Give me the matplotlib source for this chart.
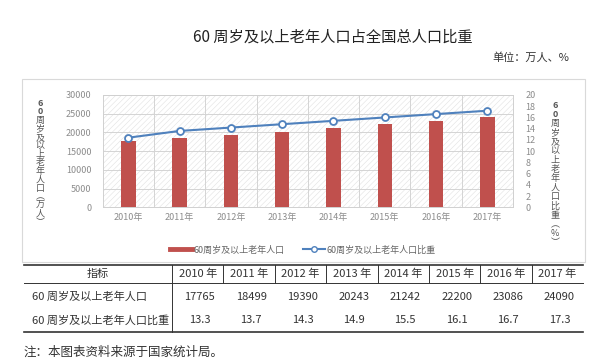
import matplotlib
matplotlib.use("Agg")
import matplotlib.pyplot as plt
from matplotlib.patches import Rectangle
from matplotlib.lines import Line2D

plt.rcParams['font.family'] = ['Noto Sans CJK SC', 'DejaVu Sans']
plt.rcParams['hatch.linewidth'] = 0.4

years = ['2010年', '2011年', '2012年', '2013年', '2014年', '2015年', '2016年', '2017年']
table_years = ['2010 年', '2011 年', '2012 年', '2013 年', '2014 年', '2015 年', '2016 年', '2017 年']
population = [17765, 18499, 19390, 20243, 21242, 22200, 23086, 24090]
share_plot = [12.4, 13.6, 14.2, 14.8, 15.4, 16.0, 16.6, 17.2]
share_table = ['13.3', '13.7', '14.3', '14.9', '15.5', '16.1', '16.7', '17.3']
series_names = ['60周岁及以上老年人口', '60周岁及以上老年人口比重']
row_labels = ['60 周岁及以上老年人口', '60 周岁及以上老年人口比重']
left_ticks = [0, 5000, 10000, 15000, 20000, 25000, 30000]
right_ticks = [0, 2, 4, 6, 8, 10, 12, 14, 16, 18, 20]

W, H = 600, 362
fig = plt.figure(figsize=(W / 100, H / 100), dpi=100)

def X(px):
    return px / W

def Y(px):
    return 1 - px / H

BAR = '#C0504D'
LINE = '#4F81BD'
GREY = '#8c8c8c'

# title and unit
fig.text(X(333), Y(37), '60 周岁及以上老年人口占全国总人口比重', ha='center', va='center',
         fontsize=11, color='#222222')
fig.text(X(569), Y(58), '单位：万人、%', ha='right', va='center', fontsize=8, color='#333333')

# chart box
fig.add_artist(Rectangle((X(22), Y(262)), X(585) - X(22), Y(79) - Y(262),
                         transform=fig.transFigure, facecolor='none', edgecolor='#d9d9d9', lw=0.8))

ax = fig.add_axes([X(102.7), Y(207.3), X(513) - X(102.7), Y(95) - Y(207.3)])
ax.set_facecolor('white')
ax.add_patch(Rectangle((0, 0), 1, 1, transform=ax.transAxes, facecolor='white',
                       edgecolor='#e2e2e2', hatch='//////', lw=0, zorder=0))
xs = list(range(len(years)))
ax.bar(xs, population, width=0.28, color=BAR, zorder=3)
ax.set_xlim(-0.5, len(years) - 0.5)
ax.set_ylim(0, 30000)
ax.set_yticks(left_ticks)
ax.set_yticklabels([str(v) for v in left_ticks])
ax.set_xticks(xs)
ax.set_xticklabels(years)
ax.tick_params(axis='both', length=0, labelsize=6.5, labelcolor=GREY)
ax.tick_params(axis='y', pad=8)
ax.tick_params(axis='x', pad=4)
for v in left_ticks[1:]:
    ax.axhline(v, color='#d4d4d4', lw=0.7, zorder=1)
for k in range(len(years) - 1):
    ax.axvline(k + 0.5, color='#d4d4d4', lw=0.7, zorder=1)
for s in ax.spines.values():
    s.set_color('#d0d0d0')
    s.set_linewidth(0.7)

ax2 = ax.twinx()
ax2.plot(xs, share_plot, color=LINE, lw=1.5, marker='o', markersize=5,
         markerfacecolor='white', markeredgecolor=LINE, markeredgewidth=1.3, zorder=4)
ax2.set_ylim(0, 20)
ax2.set_yticks(right_ticks)
ax2.set_yticklabels([str(v) for v in right_ticks])
ax2.tick_params(axis='y', length=0, labelsize=6.5, labelcolor=GREY, pad=9)
for s in ax2.spines.values():
    s.set_visible(False)

# vertical axis titles, one glyph per line
left_chars = ['6', '0', '周', '岁', '及', '以', '上', '老', '年', '人', '口', '︵', '万', '人', '︶']
right_chars = ['6', '0', '周', '岁', '及', '以', '上', '老', '年', '人', '口', '比', '重', '︵', '%', '︶']

def vlabel(chars, x, y0, y1):
    n = len(chars)
    step = (y1 - y0) / (n - 1)
    for i, c in enumerate(chars):
        fig.text(X(x), Y(y0 + i * step), c, ha='center', va='center', fontsize=6.5,
                 color='#555555', fontweight='bold' if c.isdigit() else 'normal')

vlabel(left_chars, 40, 103, 223)
vlabel(right_chars, 555, 105, 243)

# legend
handles = [Line2D([], [], color=BAR, lw=3.5),
           Line2D([], [], color=LINE, lw=1.5, marker='o', markersize=4,
                  markerfacecolor='white', markeredgecolor=LINE)]
fig.legend(handles, series_names, loc='center', bbox_to_anchor=(X(303), Y(250)),
           ncol=2, frameon=False, fontsize=6.5, handlelength=2.4, columnspacing=2.0,
           handletextpad=0.2, labelcolor='#666666')

# table
col_edges = [24, 172, 223.4, 274.8, 326.2, 377.6, 429, 480.4, 531.8, 583.2]
y_top, y_head, y_bot = 265, 283, 332
TC = '#333333'
def hline(y, x0, x1, lw):
    fig.add_artist(Line2D([X(x0), X(x1)], [Y(y), Y(y)], transform=fig.transFigure, color=TC, lw=lw))
def vline(x, y0, y1, lw):
    fig.add_artist(Line2D([X(x), X(x)], [Y(y0), Y(y1)], transform=fig.transFigure, color=TC, lw=lw))

hline(y_top, col_edges[0], col_edges[-1], 1.2)
hline(y_head, col_edges[0], col_edges[-1], 0.7)
hline(y_bot, col_edges[0], col_edges[-1], 1.2)
vline(col_edges[1], y_top, y_bot, 0.7)
for xe in col_edges[2:-1]:
    vline(xe, y_top, y_head, 0.7)

fig.text(X((col_edges[0] + col_edges[1]) / 2), Y(274), '指标', ha='center', va='center',
         fontsize=8, color=TC)
for i, ty in enumerate(table_years):
    cx = (col_edges[i + 1] + col_edges[i + 2]) / 2
    fig.text(X(cx), Y(274), ty, ha='center', va='center', fontsize=8, color=TC)
    fig.text(X(cx + 2), Y(297), str(population[i]), ha='center', va='center', fontsize=8, color=TC)
    fig.text(X(cx + 2), Y(320), share_table[i], ha='center', va='center', fontsize=8, color=TC)
fig.text(X(32), Y(297), row_labels[0], ha='left', va='center', fontsize=8, color=TC)
fig.text(X(32), Y(320), row_labels[1], ha='left', va='center', fontsize=8, color=TC)

fig.text(X(23), Y(352), '注：本图表资料来源于国家统计局。', ha='left', va='center',
         fontsize=9, color=TC)

fig.savefig('out.png', dpi=100)
